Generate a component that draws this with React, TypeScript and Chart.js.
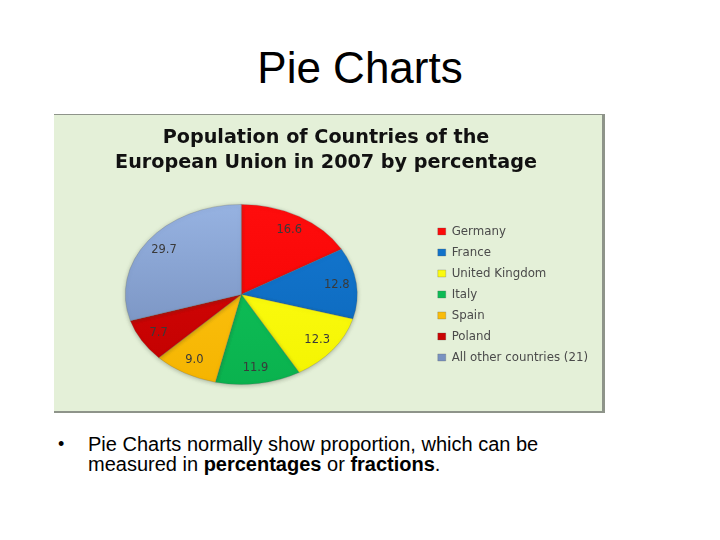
import React, { useEffect, useRef } from "react";
import { Chart, registerables } from "chart.js";

Chart.register(...registerables);

const countries = [
  "Germany",
  "France",
  "United Kingdom",
  "Italy",
  "Spain",
  "Poland",
  "All other countries (21)",
];
const shares = [16.6, 12.8, 12.3, 11.9, 9.0, 7.7, 29.7];
const sliceTop = ["#ff0d0d", "#1478d2", "#ffff1a", "#10c45c", "#ffc818", "#dc0808", "#97b3e2"];
const sliceBottom = ["#f20000", "#0b66b8", "#f4f400", "#0ab24e", "#f5b400", "#c00000", "#6f88b6"];
const titleLines = ["Population of Countries of the", "European Union in 2007 by percentage"];

const SQUASH = 0.776;

// the source pie is an oval, so squash the arcs while they are drawn
const ovalPie = {
  id: "ovalPie",
  beforeDatasetsDraw(chart: any) {
    const arc = chart.getDatasetMeta(0).data[0];
    const ctx = chart.ctx;
    ctx.save();
    ctx.translate(arc.x, arc.y);
    ctx.scale(1, SQUASH);
    ctx.translate(-arc.x, -arc.y);
    ctx.shadowColor = "rgba(60,70,50,0.35)";
    ctx.shadowBlur = 4;
    ctx.shadowOffsetY = 1;
  },
  afterDatasetsDraw(chart: any) {
    const ctx = chart.ctx;
    ctx.restore();
    ctx.save();
    ctx.font = "11.5px 'DejaVu Sans'";
    ctx.fillStyle = "#3a3a3a";
    ctx.textAlign = "center";
    ctx.textBaseline = "middle";
    chart.getDatasetMeta(0).data.forEach((arc: any, i: number) => {
      const mid = (arc.startAngle + arc.endAngle) / 2;
      const r = arc.outerRadius * 0.83;
      const x = arc.x + Math.cos(mid) * r;
      const y = arc.y + Math.sin(mid) * r * SQUASH;
      ctx.fillText(shares[i].toFixed(1), x, y);
    });
    ctx.restore();
  },
};

export default function App() {
  const chartRef = useRef<HTMLCanvasElement>(null);

  useEffect(() => {
    const ctx = chartRef.current?.getContext("2d");
    if (!ctx) return;
    const chart = new Chart(ctx, {
      type: "pie",
      data: {
        labels: countries,
        datasets: [
          {
            data: shares,
            radius: 116,
            borderWidth: 0.6,
            borderColor: "rgba(90,90,90,0.45)",
            backgroundColor: (c: any) => {
              const g = c.chart.ctx.createLinearGradient(0, 60, 0, 300);
              g.addColorStop(0, sliceTop[c.dataIndex]);
              g.addColorStop(1, sliceBottom[c.dataIndex]);
              return g;
            },
          },
        ],
      },
      options: {
        animation: false,
        responsive: false,
        layout: { padding: { right: 4, left: 0, top: 0, bottom: 0 } },
        plugins: {
          tooltip: { enabled: false },
          title: {
            display: true,
            text: titleLines,
            color: "#111111",
            font: { family: "'DejaVu Sans'", size: 19.2, weight: "bold", lineHeight: 1.3 },
            padding: { top: 11, bottom: 2 },
          },
          legend: {
            position: "right",
            fullSize: false,
            labels: {
              color: "#4a4a4a",
              boxWidth: 8,
              boxHeight: 7,
              padding: 9.2,
              font: { family: "'DejaVu Sans'", size: 11.8 },
            },
          },
        },
      },
      plugins: [ovalPie],
    } as any);
    return () => {
      chart.destroy();
    };
  }, []);

  return (
    <div
      style={{
        position: "absolute",
        left: 0,
        top: 0,
        width: 720,
        height: 540,
        background: "#ffffff",
        fontFamily: "'Liberation Sans', Arial, sans-serif",
        color: "#000000",
        overflow: "hidden",
      }}
    >
      <div style={{ position: "absolute", left: 0, width: 720, top: 42, textAlign: "center", fontSize: 44, lineHeight: "52px" }}>
        Pie Charts
      </div>
      <div
        style={{
          position: "absolute",
          left: 54,
          top: 114,
          width: 551,
          height: 299,
          background: "#e4f0d8",
          borderTop: "1px solid #8e948a",
          borderBottom: "2px solid #8e948a",
          borderRight: "3px solid #8e948a",
          boxSizing: "border-box",
        }}
      >
        <canvas ref={chartRef} width={548} height={296} style={{ display: "block", width: 548, height: 296 }} />
      </div>
      <div style={{ position: "absolute", left: 58, top: 434, fontSize: 18, lineHeight: "20px" }}>•</div>
      <div style={{ position: "absolute", left: 88, top: 434, width: 500, fontSize: 20, lineHeight: "20px", whiteSpace: "nowrap" }}>
        Pie Charts normally show proportion, which can be
        <br />
        measured in <b>percentages</b> or <b>fractions</b>.
      </div>
    </div>
  );
}
